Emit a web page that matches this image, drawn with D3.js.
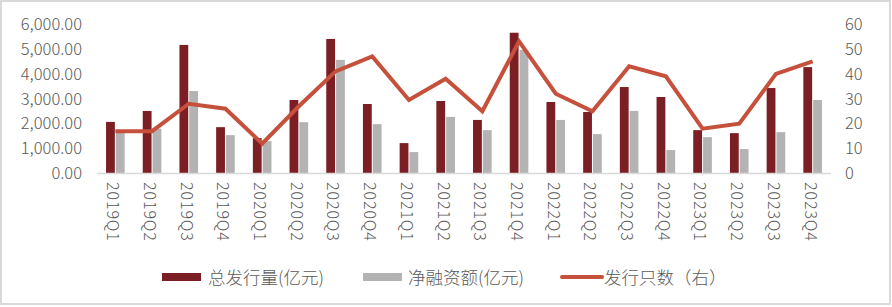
<!DOCTYPE html>
<meta charset="utf-8">
<style>
body { margin: 0; background: #fff; }
text { font-family: "Noto Sans CJK SC", "Noto Sans", sans-serif; font-weight: 300; fill: #595959; }
</style>
<body>
<script src="https://cdn.jsdelivr.net/npm/d3@7"></script>
<script>
var quarters = ["2019Q1","2019Q2","2019Q3","2019Q4","2020Q1","2020Q2","2020Q3","2020Q4",
  "2021Q1","2021Q2","2021Q3","2021Q4","2022Q1","2022Q2","2022Q3","2022Q4",
  "2023Q1","2023Q2","2023Q3","2023Q4"];
var totalIssue = [2070, 2510, 5160, 1860, 1420, 2950, 5400, 2790, 1220, 2910,
  2150, 5650, 2870, 2470, 3470, 3070, 1740, 1620, 3430, 4270];
var netFinance = [1700, 1800, 3310, 1540, 1300, 2060, 4560, 1980, 860, 2270,
  1740, 4960, 2150, 1580, 2510, 940, 1460, 980, 1660, 2950];
var issueCount = [17, 17, 28, 26, 12, 27, 41, 47, 29.5, 38, 25, 53, 32, 25, 43, 39, 18, 20, 40, 45];
var leftTicks = [0, 1000, 2000, 3000, 4000, 5000, 6000];
var rightTicks = [0, 10, 20, 30, 40, 50, 60];
var legendNames = ["总发行量(亿元)", "净融资额(亿元)", "发行只数（右）"];

var W = 892, H = 307;
var plot = {left: 97, right: 831, top: 24, bottom: 173.5};

var svg = d3.select("body").append("svg")
    .attr("width", W)
    .attr("height", H);

// outer frame
svg.append("rect")
    .attr("x", 1).attr("y", 1)
    .attr("width", 889).attr("height", 303)
    .attr("fill", "#fff")
    .attr("stroke", "#d9d9d9")
    .attr("stroke-width", 2);

var x = d3.scaleBand()
    .domain(quarters)
    .range([plot.left, plot.right]);

var y = d3.scaleLinear()
    .domain([0, 6000])
    .range([plot.bottom, plot.top]);

var y2 = d3.scaleLinear()
    .domain([0, 60])
    .range([plot.bottom, plot.top]);

var barW = x.bandwidth() * 0.24;

// bars
svg.append("g").selectAll("rect")
    .data(quarters)
  .enter().append("rect")
    .attr("x", function(d) { return x(d) + x.bandwidth() / 2 - 0.5 - barW; })
    .attr("y", function(d, i) { return y(totalIssue[i]); })
    .attr("width", barW)
    .attr("height", function(d, i) { return y(0) - y(totalIssue[i]); })
    .attr("fill", "#7c1f24");

svg.append("g").selectAll("rect")
    .data(quarters)
  .enter().append("rect")
    .attr("x", function(d) { return x(d) + x.bandwidth() / 2 + 0.5; })
    .attr("y", function(d, i) { return y(netFinance[i]); })
    .attr("width", barW)
    .attr("height", function(d, i) { return y(0) - y(netFinance[i]); })
    .attr("fill", "#b3b3b3");

// baseline
svg.append("line")
    .attr("x1", plot.left).attr("x2", plot.right)
    .attr("y1", y(0)).attr("y2", y(0))
    .attr("stroke", "#d9d9d9")
    .attr("stroke-width", 1.5);

// line series
var line = d3.line()
    .x(function(d, i) { return x(quarters[i]) + x.bandwidth() / 2; })
    .y(function(d) { return y2(d); });

svg.append("path")
    .datum(issueCount)
    .attr("d", line)
    .attr("fill", "none")
    .attr("stroke", "#c5503c")
    .attr("stroke-width", 4)
    .attr("stroke-linejoin", "miter")
    .attr("stroke-linecap", "butt");

// left axis
var yAxis = d3.axisLeft(y)
    .tickValues(leftTicks)
    .tickFormat(d3.format(",.2f"))
    .tickSize(0)
    .tickPadding(0);

var gy = svg.append("g")
    .attr("transform", "translate(82,0)")
    .call(yAxis);
gy.select(".domain").remove();
gy.selectAll("text")
    .attr("x", 0)
    .style("font-family", null)
    .style("font-size", "16.5px")
    .style("fill", "#595959");

// right axis
var y2Axis = d3.axisRight(y2)
    .tickValues(rightTicks)
    .tickSize(0)
    .tickPadding(0);

var gy2 = svg.append("g")
    .attr("transform", "translate(845,0)")
    .call(y2Axis);
gy2.select(".domain").remove();
gy2.selectAll("text")
    .attr("x", 0)
    .style("font-size", "16.5px")
    .style("fill", "#595959");

// x labels, rotated
var xAxis = d3.axisBottom(x).tickSize(0).tickPadding(0);
var gx = svg.append("g")
    .attr("transform", "translate(0,182)")
    .call(xAxis);
gx.select(".domain").remove();
gx.selectAll("text")
    .attr("x", 0).attr("y", 0)
    .attr("dy", "0.35em")
    .attr("transform", "translate(-2.5,0) rotate(90)")
    .style("text-anchor", "start")
    .style("font-size", "16px")
    .style("letter-spacing", "0.9px")
    .style("fill", "#595959");

// axis groups carry their own font attrs; let the css font apply
svg.selectAll("g").attr("font-family", null).attr("font-size", null);

// legend
var legend = svg.append("g").attr("class", "legend");
legend.append("rect")
    .attr("x", 162).attr("y", 273).attr("width", 39).attr("height", 8)
    .attr("fill", "#7c1f24");
legend.append("rect")
    .attr("x", 363).attr("y", 273).attr("width", 39).attr("height", 8)
    .attr("fill", "#b3b3b3");
legend.append("line")
    .attr("x1", 562).attr("x2", 602).attr("y1", 277).attr("y2", 277)
    .attr("stroke", "#c5503c").attr("stroke-width", 4)
    .attr("stroke-linecap", "round");

var legendX = [208, 408, 604];
legend.selectAll("text.lg")
    .data(legendNames)
  .enter().append("text")
    .attr("class", "lg")
    .attr("x", function(d, i) { return legendX[i]; })
    .attr("y", 284)
    .style("font-size", "17.5px")
    .text(function(d) { return d; });
</script>
</body>
